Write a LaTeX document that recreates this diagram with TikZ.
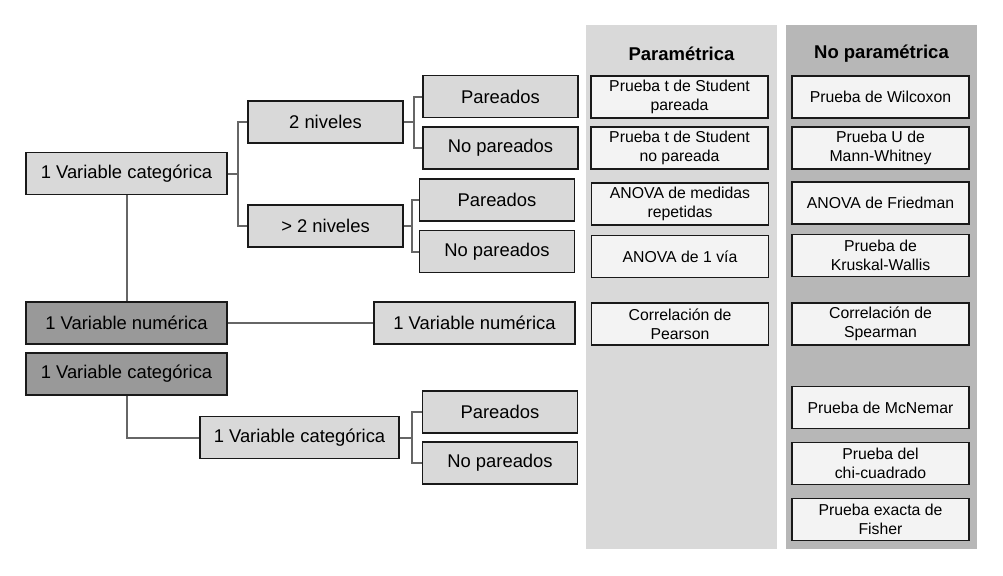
\documentclass[tikz,border=0pt]{standalone}
\usepackage{fontspec}
\setmainfont{Liberation Sans}
\usetikzlibrary{calc}

\definecolor{cajaclara}{HTML}{D9D9D9}
\definecolor{cajaoscura}{HTML}{999999}
\definecolor{cajaprueba}{HTML}{F3F3F3}
\definecolor{panelpar}{HTML}{D9D9D9}
\definecolor{panelnopar}{HTML}{B7B7B7}
\definecolor{linea}{HTML}{666666}

\begin{document}
\begin{tikzpicture}[x=0.5pt,y=-0.5pt,
    caja/.style={draw=black!90,line width=0.9pt,fill=cajaclara,inner sep=0pt,
        minimum height=21pt,font=\fontsize{9.2}{11}\selectfont},
    ancha/.style={caja,minimum width=100.5pt},
    estrecha/.style={caja,minimum width=77.5pt},
    oscura/.style={ancha,fill=cajaoscura},
    prueba/.style={draw=black!90,line width=0.9pt,fill=cajaprueba,inner sep=0pt,
        minimum width=88.5pt,minimum height=21pt,align=center,
        font=\fontsize{7.9}{9.3}\selectfont},
    titulo/.style={font=\fontsize{9.25}{11}\selectfont\bfseries},
    enlace/.style={draw=linea,line width=1pt}]
    \useasboundingbox (0,0) rectangle (1003,575);

    \fill[panelpar] (586,25) rectangle (777,549);  % 画背景
    \fill[panelnopar] (786,25) rectangle (977,549); % 画背景
    \node[titulo] (tpar) at (681.5,54) {Paramétrica};
    \node[titulo] (tnopar) at (881.5,54) {No paramétrica};

    \node[ancha] (cat1) at (126.5,173.5) {1 Variable categórica}; % 左边的树
    \node[estrecha] (niv2) at (325.5,122) {2 niveles};
    \node[estrecha] (nivm) at (325.5,226) {> 2 niveles};
    \node[estrecha] (par1) at (500.5,96.5) {Pareados};
    \node[estrecha] (npar1) at (500.5,148) {No pareados};
    \node[estrecha] (par2) at (497,200) {Pareados};
    \node[estrecha] (npar2) at (497,251.5) {No pareados};
    \node[oscura] (num1) at (126.5,323) {1 Variable numérica};
    \node[ancha] (num2) at (474.5,323) {1 Variable numérica};
    \node[oscura] (cat2) at (126.5,374) {1 Variable categórica};
    \node[caja,minimum width=99.5pt] (cat3) at (299.5,437.5) {1 Variable categórica};
    \node[estrecha] (par3) at (500,412) {Pareados};
    \node[estrecha] (npar3) at (500,463) {No pareados};

    \draw[enlace] (cat1.east) -- ++(10,0) |- (niv2.west); % 连线
    \draw[enlace] (cat1.east) -- ++(10,0) |- (nivm.west);
    \draw[enlace] (niv2.east) -- ++(10,0) |- (par1.west);
    \draw[enlace] (niv2.east) -- ++(10,0) |- (npar1.west);
    \draw[enlace] (nivm.east) -- ++(8,0) |- (par2.west);
    \draw[enlace] (nivm.east) -- ++(8,0) |- (npar2.west);
    \draw[enlace] (cat1.south) -- (num1.north);
    \draw[enlace] (num1.east) -- (num2.west);
    \draw[enlace] (cat2.south) |- (cat3.west);
    \draw[enlace] (cat3.east) -- ++(12,0) |- (par3.west);
    \draw[enlace] (cat3.east) -- ++(12,0) |- (npar3.west);

    \node[prueba] (p1) at (679.5,97) {Prueba t de Student\\pareada}; % 参数检验
    \node[prueba] (p2) at (679.5,148) {Prueba t de Student\\no pareada};
    \node[prueba] (p3) at (680,204) {ANOVA de medidas\\repetidas};
    \node[prueba] (p4) at (680,256.5) {ANOVA de 1 vía};
    \node[prueba] (p5) at (680,324) {Correlación de\\Pearson};

    \node[prueba] (n1) at (880.5,97) {Prueba de Wilcoxon}; % 非参数检验
    \node[prueba] (n2) at (880.5,148) {Prueba U de\\Mann-Whitney};
    \node[prueba] (n3) at (880.5,203) {ANOVA de Friedman};
    \node[prueba] (n4) at (880.5,255.5) {Prueba de\\Kruskal-Wallis};
    \node[prueba] (n5) at (880.5,324) {Correlación de\\Spearman};
    \node[prueba] (n6) at (880.5,407.5) {Prueba de McNemar};
    \node[prueba] (n7) at (880.5,463.5) {Prueba del\\chi-cuadrado};
    \node[prueba] (n8) at (880.5,519.5) {Prueba exacta de\\Fisher};
\end{tikzpicture}
\end{document}
